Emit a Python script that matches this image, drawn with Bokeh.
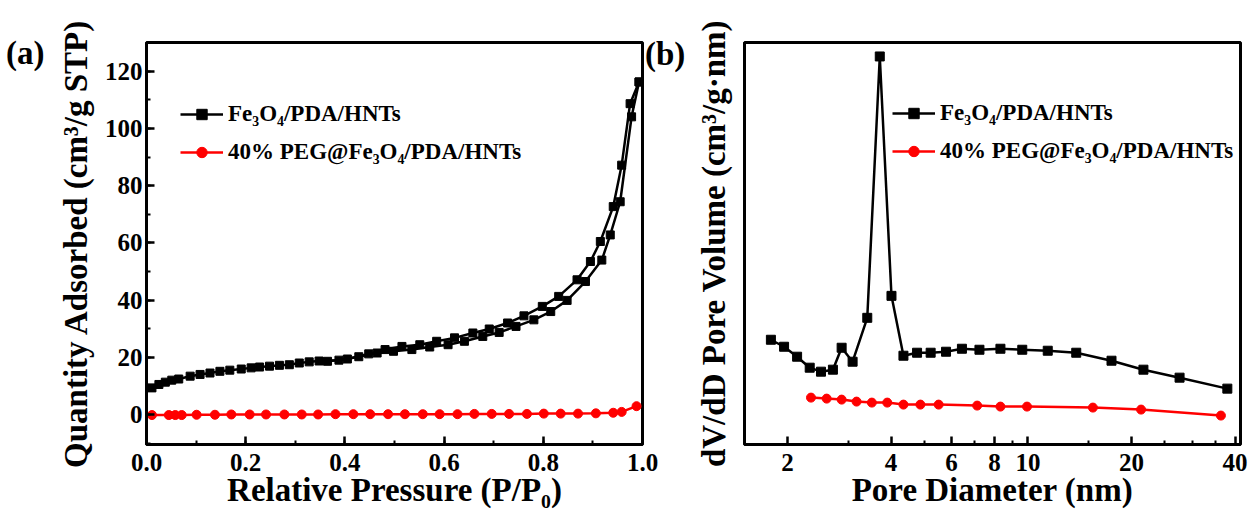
from bokeh.plotting import figure
from bokeh.layouts import row
from bokeh.models import (Range1d, SingleIntervalTicker, FixedTicker, BasicTickFormatter,
                          NumeralTickFormatter, Legend, LegendItem)
from bokeh.embed import file_html
from bokeh.resources import INLINE

# ---------------- data: (a) N2 isotherm ----------------
ads_p = [0.011, 0.025, 0.038, 0.051, 0.065, 0.088, 0.108, 0.128, 0.148, 0.168, 0.191, 0.211,
         0.228, 0.248, 0.268, 0.288, 0.308, 0.328, 0.348, 0.388, 0.428, 0.465, 0.498, 0.535,
         0.571, 0.608, 0.641, 0.678, 0.711, 0.745, 0.781, 0.815, 0.848, 0.885, 0.918, 0.935,
         0.955, 0.978, 0.993]
ads_q = [9.3, 10.5, 11.3, 12.0, 12.4, 13.4, 14.0, 14.5, 15.1, 15.5, 15.9, 16.3,
         16.6, 16.9, 17.2, 17.4, 18.0, 18.4, 18.7, 19.0, 20.2, 21.5, 22.1, 22.7,
         23.6, 24.4, 25.6, 27.3, 28.7, 30.8, 33.1, 36.0, 39.9, 46.5, 54.0, 62.8,
         74.4, 104.1, 116.3]
des_p = [0.993, 0.975, 0.958, 0.941, 0.915, 0.895, 0.868, 0.831, 0.798, 0.761, 0.728, 0.691,
         0.658, 0.621, 0.585, 0.551, 0.515, 0.481, 0.448, 0.405, 0.365]
des_q = [116.3, 108.7, 87.2, 72.7, 60.5, 53.5, 47.1, 41.3, 37.8, 34.5, 32.0, 29.9,
         28.5, 26.8, 25.6, 24.4, 23.8, 22.7, 21.2, 19.4, 18.6]
peg_p = [0.011, 0.045, 0.058, 0.071, 0.101, 0.138, 0.171, 0.208, 0.241, 0.278, 0.313, 0.346,
         0.381, 0.417, 0.451, 0.487, 0.521, 0.557, 0.591, 0.627, 0.661, 0.696, 0.731, 0.767,
         0.801, 0.835, 0.870, 0.906, 0.941, 0.958, 0.988]
peg_q = [-0.2, -0.2, -0.2, -0.2, -0.1, -0.1, 0.0, 0.0, 0.0, 0.0, 0.0, 0.0,
         0.1, 0.1, 0.1, 0.1, 0.1, 0.1, 0.1, 0.1, 0.2, 0.2, 0.2, 0.2,
         0.3, 0.3, 0.3, 0.4, 0.6, 0.9, 2.9]

# ---------------- data: (b) pore size distribution ----------------
psd_d = [1.79, 1.955, 2.133, 2.321, 2.503, 2.711, 2.874, 3.093, 3.412, 3.710, 4.012, 4.347,
         4.762, 5.215, 5.781, 6.43, 7.23, 8.32, 9.63, 11.42, 13.82, 17.50, 21.67, 27.6, 38.0]
psd_v = [0.105, 0.098, 0.088, 0.077, 0.073, 0.075, 0.097, 0.083, 0.127, 0.389, 0.149, 0.089,
         0.092, 0.092, 0.093, 0.096, 0.095, 0.096, 0.095, 0.094, 0.092, 0.084, 0.075, 0.067, 0.056]
peg_d = [2.341, 2.600, 2.874, 3.176, 3.518, 3.900, 4.347, 4.869, 5.502, 7.12, 8.32, 9.94,
         15.45, 21.33, 36.4]
peg_v = [0.047, 0.046, 0.045, 0.043, 0.042, 0.042, 0.040, 0.040, 0.040, 0.039, 0.038, 0.038,
         0.037, 0.035, 0.029]

series_labels = ["Fe\u2083O\u2084/PDA/HNTs", "40% PEG@Fe\u2083O\u2084/PDA/HNTs"]
x_ticks_b = [2, 4, 6, 8, 10, 20, 40]
x_minor_b = [3, 5, 7, 9, 15, 25, 30, 35]

FONT = "Liberation Serif"
BLACK = "#000000"
RED = "#ff0000"
H = 518


def style_axes(p):
    p.outline_line_color = BLACK
    p.outline_line_width = 3
    p.outline_line_alpha = 1
    p.background_fill_color = "white"
    p.border_fill_color = "white"
    for ax in (p.xaxis[0], p.yaxis[0]):
        ax.axis_line_width = 3
        ax.axis_line_color = BLACK
        ax.major_tick_in = 8
        ax.major_tick_out = 0
        ax.minor_tick_in = 4
        ax.minor_tick_out = 0
        ax.major_tick_line_width = 2.5
        ax.minor_tick_line_width = 2
        ax.major_label_text_font = FONT
        ax.major_label_text_font_style = "bold"
        ax.major_label_text_font_size = "25px"
        ax.major_label_text_color = BLACK
        ax.axis_label_text_font = FONT
        ax.axis_label_text_font_style = "bold"
        ax.axis_label_text_font_size = "33px"
        ax.axis_label_text_color = BLACK
    p.xaxis.major_label_standoff = 9
    p.xaxis.axis_label_standoff = -2
    p.yaxis.major_label_standoff = 4
    p.xgrid.visible = False
    p.ygrid.visible = False


def series_legend(p, items, x, y):
    leg = Legend(items=items, location=(x, y), glyph_width=43, glyph_height=26,
                 label_height=26, spacing=12, padding=0, margin=0, label_standoff=5,
                 label_text_font=FONT, label_text_font_style="bold",
                 label_text_font_size="23px", label_text_color=BLACK,
                 border_line_alpha=0, background_fill_alpha=0)
    p.add_layout(leg)


def panel_tag(p, text, side, m, y):
    leg = Legend(items=[LegendItem(label=text, renderers=[])], location=(m, y),
                 glyph_width=0, glyph_height=36, label_height=36, label_standoff=0,
                 padding=0, margin=m, label_text_font=FONT, label_text_font_style="bold",
                 label_text_font_size="33px", label_text_color=BLACK,
                 border_line_alpha=0, background_fill_alpha=0)
    p.add_layout(leg, side)


# ================= panel (a) =================
WA = 692
pa = figure(width=WA, height=H, output_backend="svg", toolbar_location=None,
            x_range=Range1d(0, 1.0), y_range=Range1d(-10.5, 130.1),
            min_border_left=146, min_border_right=WA - 646, min_border_top=42,
            min_border_bottom=H - 444)
style_axes(pa)
pa.xaxis.ticker = SingleIntervalTicker(interval=0.2, num_minor_ticks=2)
pa.yaxis.ticker = SingleIntervalTicker(interval=20, num_minor_ticks=2)
pa.xaxis.formatter = NumeralTickFormatter(format="0.0")
pa.xaxis.axis_label = "Relative Pressure (P/P\u2080)"
pa.yaxis.axis_label = "Quantity Adsorbed (cm\u00b3/g STP)"
pa.yaxis.axis_label_standoff = 8

la1 = pa.line(ads_p, ads_q, line_color=BLACK, line_width=2.5)
sa1 = pa.scatter(ads_p, ads_q, marker="square", size=8, color=BLACK)
la2 = pa.line(des_p, des_q, line_color=BLACK, line_width=2.5)
sa2 = pa.scatter(des_p, des_q, marker="square", size=8, color=BLACK)
lr = pa.line(peg_p, peg_q, line_color=RED, line_width=2.5)
sr = pa.scatter(peg_p, peg_q, marker="circle", size=9, color=RED)

series_legend(pa, [LegendItem(label=series_labels[0], renderers=[la1, sa1]),
                   LegendItem(label=series_labels[1], renderers=[lr, sr])], 34, 279)
panel_tag(pa, "(a)", "left", 6, 372)
panel_tag(pa, "(b)", "right", 3, 371)

# ================= panel (b) =================
pb = figure(width=1248 - WA, height=H, output_backend="svg", toolbar_location=None,
            x_axis_type="log", x_range=Range1d(1.5, 41.5), y_range=Range1d(0, 0.403),
            min_border_left=742 - WA, min_border_right=8, min_border_top=42,
            min_border_bottom=H - 444)
style_axes(pb)
pb.xaxis.ticker = FixedTicker(ticks=x_ticks_b, minor_ticks=x_minor_b)
pb.xaxis.formatter = BasicTickFormatter(use_scientific=False)
pb.yaxis.ticker = FixedTicker(ticks=[], minor_ticks=[])
pb.yaxis.major_label_standoff = 0
pb.yaxis.axis_label_standoff = 13
pb.xaxis.axis_label = "Pore Diameter (nm)"
pb.yaxis.axis_label = "dV/dD Pore Volume (cm\u00b3/g\u00b7nm)"

lb1 = pb.line(psd_d, psd_v, line_color=BLACK, line_width=2.5)
sb1 = pb.scatter(psd_d, psd_v, marker="square", size=9, color=BLACK)
lb2 = pb.line(peg_d, peg_v, line_color=RED, line_width=2.5)
sb2 = pb.scatter(peg_d, peg_v, marker="circle", size=9, color=RED)

series_legend(pb, [LegendItem(label=series_labels[0], renderers=[lb1, sb1]),
                   LegendItem(label=series_labels[1], renderers=[lb2, sb2])], 148, 280)

layout = row(pa, pb, spacing=0)
open("out.html", "w").write(file_html(layout, INLINE))
